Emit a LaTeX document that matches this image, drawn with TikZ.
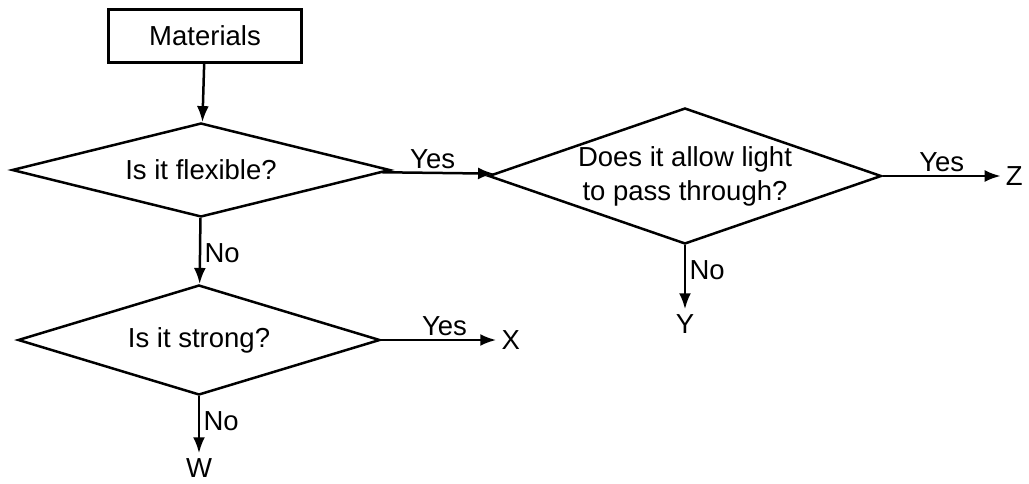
\documentclass[tikz,border=0pt]{standalone}
\usepackage{fontspec}
\setmainfont{Liberation Sans}
\usetikzlibrary{positioning, shapes.geometric, arrows.meta}

\begin{document}
\begin{tikzpicture}[
					x=1pt, y=-1pt,
					font=\fontsize{27.5}{34}\selectfont,
					line width=2.5pt,
					start/.style={draw, rectangle, minimum width=193pt, minimum height=53pt},
					question/.style={draw, diamond, aspect=3, inner sep=0pt, align=center},
					outcome/.style={inner sep=4pt},
					flow/.style={-{Latex[length=16pt, width=12pt]}}
					]
					\useasboundingbox (0,0) rectangle (1029,483);
					\node[start] (mat) at (205,36) {Materials};
					\node[question, minimum width=378pt, minimum height=94pt] (flex) at (201,170) {Is it flexible?};
					\node[question, minimum width=384pt, minimum height=136pt] (light) at (685,176) {Does it allow light\\to pass through?};
					\node[question, minimum width=362pt, minimum height=110pt] (strong) at (199,340) {Is it strong?};
					\node[outcome, right=118pt of light] (z) {Z};
					\node[outcome, below=64pt of light] (y) {Y};
					\node[outcome, right=115pt of strong] (x) {X};
					\node[outcome, below=57pt of strong] (w) {W};
					% connectors
					\draw[flow] (mat) -- (flex);
					\draw[flow] (flex) -- node[above, pos=.45] (yes1) {Yes} (light);
					\draw[flow] (light) -- node[above] (yes2) {Yes} (z);
					\draw[flow] (light) -- node[right, pos=.39] (no2) {No} (y);
					\draw[flow] (flex) -- node[right, pos=.53] (no1) {No} (strong);
					\draw[flow] (strong) -- node[above, pos=.55] (yes3) {Yes} (x);
					\draw[flow] (strong) -- node[right, pos=.44] (no3) {No} (w);
				\end{tikzpicture}
\end{document}
